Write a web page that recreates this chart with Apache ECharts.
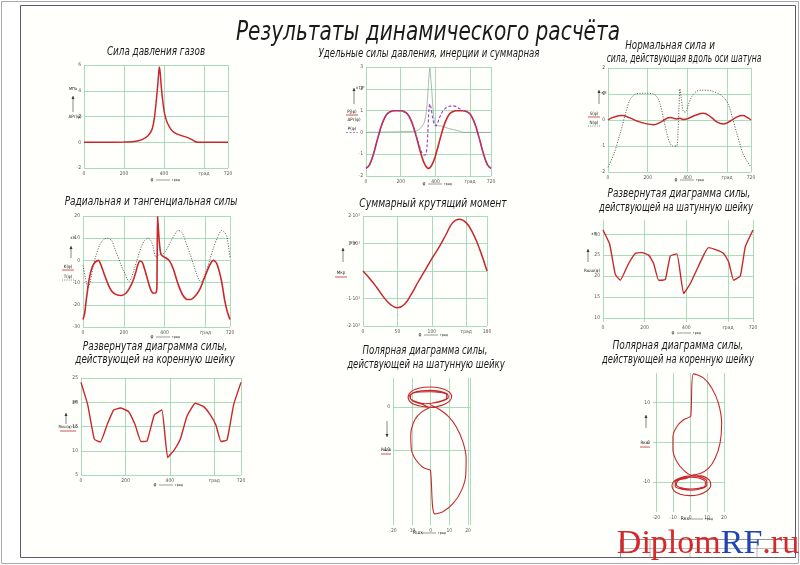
<!DOCTYPE html>
<html><head><meta charset="utf-8">
<script src="https://cdn.jsdelivr.net/npm/echarts@6/dist/echarts.min.js"></script>
<style>html,body{margin:0;padding:0;background:#fff}#c{width:800px;height:565px}</style>
</head><body><div id="c"></div><script>
// ---------- DATA ----------
const sheetTitle = 'Результаты динамического расчёта';
const degTickLabels = {0:'0',200:'200',400:'400',600:'град',720:'720'};
const torqueTickLabels = {0:'0',50:'50',100:'100',150:'град',180:'180'};

// 1. gas pressure force, MPa vs crank angle
const gasForce = [[0,0],[100,0],[200,0.01],[250,0.05],[290,0.2],[320,0.5],[340,1.0],[352,1.9],[360,3.0],[368,4.3],[374,5.5],[377,5.85],[381,5.4],[386,4.4],[393,3.3],[402,2.3],[412,1.7],[420,1.4],[435,1.0],[452,0.75],[480,0.55],[519,0.36],[540,0.2],[555,0.06],[570,0],[720,0]];
// 2. specific forces
const inertiaForce = [[0,-1.65],[20,-1.49],[40,-1.07],[60,-0.5],[80,0.08],[100,0.54],[120,0.83],[140,0.95],[160,0.99],[180,0.99],[200,0.99],[220,0.95],[240,0.83],[260,0.54],[280,0.08],[300,-0.5],[320,-1.07],[340,-1.49],[360,-1.65],[380,-1.49],[400,-1.07],[420,-0.5],[440,0.08],[460,0.54],[480,0.83],[500,0.95],[520,0.99],[540,0.99],[560,0.99],[580,0.95],[600,0.83],[620,0.54],[640,0.08],[660,-0.5],[680,-1.07],[700,-1.49],[720,-1.65]];
const gasSpecific = [[0,0],[280,0.05],[300,0.1],[320,0.25],[335,0.45],[345,0.8],[352,1.3],[358,2.0],[364,2.7],[368,2.95],[372,2.6],[378,2.0],[385,1.2],[392,0.6],[405,0.3],[430,0.3],[460,0.22],[490,0.15],[520,0.1],[545,0.04],[560,0],[720,0]];
const totalSpecific = [[0,-1.65],[20,-1.49],[40,-1.07],[60,-0.5],[80,0.08],[100,0.54],[120,0.83],[140,0.95],[160,0.99],[180,0.99],[200,0.99],[220,0.95],[240,0.83],[260,0.54],[280,0.1],[300,-0.42],[320,-0.9],[335,-1.05],[345,-1.0],[352,-0.6],[358,0.3],[363,1.1],[368,1.3],[374,1.15],[382,0.75],[392,0.4],[402,0.3],[412,0.42],[425,0.7],[440,0.95],[460,1.12],[480,1.2],[500,1.22],[520,1.18],[540,1.08],[560,1.0],[580,0.95],[600,0.83],[620,0.54],[640,0.08],[660,-0.5],[680,-1.07],[700,-1.49],[720,-1.65]];
// 3. normal force and force along con-rod axis
const normalForce = [[0,0],[25,0.1],[72,0.17],[110,0.08],[150,-0.05],[190,-0.14],[229,-0.18],[265,-0.08],[313,0.1],[345,0.04],[362,0.07],[378,0.02],[400,0.05],[440,0.18],[480,0.26],[520,0.1],[550,-0.08],[581,-0.15],[620,-0.02],[650,0.12],[678,0.17],[705,0.08],[720,0]];
const rodForce = [[0,-1.82],[30,-1.3],[62,-0.5],[90,0.3],[112,0.8],[140,1.0],[180,1.03],[230,1.0],[250,0.85],[263,0.6],[280,0.05],[296,-0.5],[310,-0.85],[325,-1.0],[345,-1.0],[352,-0.5],[358,0.6],[362,1.2],[368,0.9],[378,0.35],[390,0.3],[405,0.6],[422,0.9],[445,1.1],[470,1.15],[520,1.12],[560,1.0],[585,0.85],[606,0.6],[628,0.05],[648,-0.5],[680,-1.3],[720,-1.82]];
// 4. radial and tangential forces
const radialForce = [[0,-26.6],[8,-24],[15,-18.5],[30,-8.5],[45,-3],[60,-0.8],[76,0],[90,-2.5],[105,-6.5],[123,-10.8],[140,-13.8],[160,-15.3],[188,-15.8],[210,-14.8],[228,-12.5],[245,-9.2],[258,-5.5],[268,-2.2],[278,-0.3],[290,-0.8],[302,-4],[316,-8.5],[330,-12.8],[345,-14.8],[358,-14.5],[362,-12],[365,19.7],[368,16],[374,8],[381,3],[392,1.8],[405,1.2],[422,0],[442,-3.8],[466,-10.8],[490,-15.8],[510,-17.6],[528,-17.6],[556,-15.4],[575,-12.5],[589,-9.2],[605,-5.5],[618,-2.6],[630,-0.6],[640,0],[654,-1.2],[666,-4.5],[680,-10],[695,-18.5],[708,-23.5],[720,-26.6]];
const tangentForce = [[0,-2.3],[12,-8],[25,-12.3],[37,-9],[49,-3],[65,2.5],[82,7],[100,9.3],[118,10],[139,9.2],[155,5.5],[172,1.5],[190,-3],[205,-6],[220,-9],[226,-9.5],[238,-7.5],[254,-3],[270,1.8],[286,6.2],[302,9],[319,10],[333,8.8],[344,6],[357,1.5],[372,2.5],[393,3],[410,5],[425,7.7],[445,11],[466,13.5],[480,13],[491,11.5],[508,7],[524,3],[540,-1.5],[556,-6],[570,-9],[581,-9.5],[593,-7.5],[605,-4.6],[620,0],[638,5.4],[658,10],[679,13.5],[692,12.8],[704,10.8],[713,6],[720,1.5]];
// 5. total torque (x10^3)
const torque = [[0,0],[10,-0.28],[20,-0.6],[30,-0.95],[40,-1.22],[50,-1.34],[60,-1.22],[70,-0.85],[80,-0.4],[90,0.02],[100,0.45],[110,0.85],[120,1.3],[130,1.75],[140,1.88],[150,1.75],[160,1.35],[170,0.75],[180,0]];
// 6. force on crank pin (unrolled)
const pinForce = [[0,31],[32,27.6],[59,20.4],[83,19],[123,23],[155,25.4],[187,25.6],[219,25],[243,23],[267,19],[299,19.2],[323,24.8],[355,25.3],[387,15.8],[419,18.2],[483,25],[507,26.8],[547,26.2],[579,25.4],[603,23.4],[627,19],[659,20],[683,27],[720,31]];
// 7. force on main journal (unrolled)
const mainForce = [[0,24.1],[30,19.5],[60,12.4],[87,11.8],[117,15.3],[147,18.4],[177,18.8],[214,18.1],[244,15.3],[270,11.9],[297,12.0],[330,17.4],[364,18.4],[390,8.6],[420,10.2],[447,12.4],[477,17.1],[514,19.8],[552,19.1],[582,17.4],[607,15.3],[630,11.9],[657,12.2],[687,19.5],[720,24.1]];
// 8. polar diagram, crank pin
const pinPolar = [[-0.36,-0.08],[-5.71,0.23],[-10.18,0.94],[-11.96,2.27],[-10.18,3.67],[-5.71,4.45],[-0.36,4.69],[5.0,4.45],[9.46,3.67],[11.25,2.5],[10.0,1.33],[5.89,0.39],[0.54,-0.08],[-4.82,0.7],[-9.64,1.48],[-11.07,2.5],[-9.29,3.36],[-4.82,3.83],[-0.36,3.91],[5.0,3.67],[8.93,3.05],[9.46,2.27],[6.79,1.48],[1.43,0.94],[-3.04,0.78],[-8.39,1.33],[-10.71,2.11],[-10.18,3.05],[-5.71,3.52],[-0.36,3.59],[5.0,3.44],[8.57,2.89],[8.57,2.11],[5.0,1.33],[-0.36,0.7],[4.11,-0.39],[9.46,-2.19],[13.57,-4.53],[17.14,-8.05],[18.93,-11.95],[18.75,-15.86],[16.61,-19.38],[12.14,-22.5],[6.79,-24.45],[2.32,-25.0],[0,-14.92],[-0.36,-14.69],[-3.93,-14.14],[-7.86,-12.34],[-10.18,-10.0],[-10.54,-6.48],[-8.39,-2.97],[-4.82,-1.17],[-0.36,-0.08]];
// 9. polar diagram, main journal
const mainPolar = [[0.59,-8.31],[5.88,-7.88],[10.78,-6.61],[14.71,-4.07],[17.65,-0.25],[18.63,4.83],[16.67,9.92],[12.75,13.73],[7.84,16.27],[1.96,17.29],[0.39,6.69],[-0.39,6.36],[-3.92,5.68],[-7.84,3.98],[-10.2,1.44],[-10.2,-1.95],[-7.84,-4.92],[-3.92,-7.03],[0.59,-8.31],[6.86,-8.47],[11.37,-9.58],[12.16,-10.85],[9.8,-12.29],[4.9,-13.22],[0,-13.47],[-5.88,-13.14],[-9.8,-12.12],[-10.78,-10.85],[-8.82,-9.58],[-3.92,-8.73],[0.59,-8.47],[5.88,-8.73],[9.8,-9.75],[9.8,-10.85],[6.86,-11.69],[0.98,-12.12],[-4.9,-11.86],[-8.82,-11.1],[-8.82,-10.0],[-4.9,-9.15],[0.59,-8.81],[5.49,-9.07],[9.02,-10.0],[8.82,-11.02],[4.9,-11.61],[0,-11.78],[-5.88,-11.44],[-8.24,-10.59],[-6.86,-9.58],[-1.96,-9.07],[0.59,-8.39]];

// ---------- LAYOUT / STYLE ----------
const F = "'Liberation Sans Narrow','DejaVu Sans Condensed','Noto Sans',sans-serif";
const RED = '#c8282d', GRIDC = '#94d3ab', BORDER = '#b5b5b5';
const grids = [
  {left:84,top:65,width:144,height:103},
  {left:366,top:67,width:125,height:109},
  {left:608,top:68,width:143,height:104},
  {left:83,top:216,width:147,height:111},
  {left:363,top:216,width:124,height:110},
  {left:603,top:220,width:150,height:102},
  {left:81,top:378,width:160,height:97},
  {left:393,top:378,width:77,height:147},
  {left:653,top:373,width:72,height:139}
].map(g => Object.assign({show:true, borderColor:BORDER, borderWidth:0.8, backgroundColor:'#fff'}, g));

function axis(i, o, fmt) {
  const a = {
    type:'value', gridIndex:i, min:o.min, max:o.max,
    axisLine:{show:false}, axisTick:{show:false},
    splitLine:{show:true, lineStyle:{color:GRIDC, width:0.8}},
    axisLabel:{fontSize:5, color:'#555', margin:3, fontFamily:F,
      formatter: fmt || (v => String(Math.round(v*100)/100))}
  };
  if (o.interval !== undefined) a.interval = o.interval;
  if (o.custom) { a.axisTick.customValues = o.custom; a.axisLabel.customValues = o.custom; }
  return a;
}
const degFmt = v => (degTickLabels[v] !== undefined ? degTickLabels[v] : '');
const xAxes = [
  axis(0,{min:0,max:720,interval:200},degFmt),
  axis(1,{min:0,max:720,interval:200},degFmt),
  axis(2,{min:0,max:720,interval:200},degFmt),
  axis(3,{min:0,max:720,interval:200},degFmt),
  axis(4,{min:0,max:180,interval:50},v => torqueTickLabels[v] !== undefined ? torqueTickLabels[v] : ''),
  axis(5,{min:0,max:720,interval:200},degFmt),
  axis(6,{min:0,max:720,interval:200},degFmt),
  axis(7,{min:-20,max:21,interval:10},v => v===21?'':String(v)),
  axis(8,{min:-22,max:20.6,custom:[-20,-10,0,10,20]})
];
const yAxes = [
  axis(0,{min:-2,max:6,interval:2}),
  axis(1,{min:-2,max:3,interval:1}),
  axis(2,{min:-2,max:2,interval:1}),
  axis(3,{min:-30,max:20,interval:10}),
  axis(4,{min:-2,max:2,interval:1},v => v===0?'':(v+'·10³')),
  axis(5,{min:9,max:33.4,custom:[10,15,20,25,30]}),
  axis(6,{min:5,max:25,interval:5}),
  axis(7,{min:-27.6,max:6.8,custom:[-10,0]}),
  axis(8,{min:-17.6,max:17.5,custom:[-10,0,10]})
];
xAxes.forEach(a => a.position = 'bottom');
yAxes.forEach(a => a.position = 'left');

function line(i, data, color, width, opts) {
  return Object.assign({type:'line', xAxisIndex:i, yAxisIndex:i, data, symbol:'none', showSymbol:false,
    silent:true, lineStyle:{color, width}, smooth:0.3, z:3}, opts || {});
}
const series = [
  line(0, gasForce, RED, 1.5, {smooth:0.2}),
  line(1, gasSpecific, '#7f9c8c', 0.7, {smooth:0.2}),
  line(1, inertiaForce, RED, 1.6, {smooth:0.45}),
  line(1, totalSpecific, '#9b3cc8', 1.1, {smooth:0.3, lineStyle:{color:'#9b3cc8', width:1.1, type:[3,2]}}),
  line(2, normalForce, RED, 1.5, {smooth:0.45}),
  line(2, rodForce, '#333', 0.8, {smooth:0.3, lineStyle:{color:'#333', width:0.8, type:[1.1,1.5]}}),
  line(3, tangentForce, '#333', 0.8, {smooth:0.3, lineStyle:{color:'#333', width:0.8, type:[1.1,1.5]}}),
  line(3, radialForce, RED, 1.6, {smooth:0.2}),
  line(4, torque, RED, 1.5, {smooth:0.45}),
  line(5, pinForce, RED, 1.4, {smooth:0.12}),
  line(6, mainForce, RED, 1.4, {smooth:0.12}),
  line(7, pinPolar, RED, 1.1, {smooth:0.35}),
  line(8, mainPolar, RED, 1.1, {smooth:0.35})
];

// ---------- GRAPHIC TEXT / FRAME ----------
const gr = [];
function T(x, y, text, size, extra, sx) {
  gr.push({type:'text', x, y, scaleX: sx || 1, silent:true, z:10, style:Object.assign({text, fontSize:size, fontFamily:F,
    fontStyle:'italic', fill:'#1a1a1a', align:'center', textAlign:'center', verticalAlign:'middle', textVerticalAlign:'middle'}, extra||{})});
}
function L(x1,y1,x2,y2,stroke,w,dash) {
  gr.push({type:'line', silent:true, z:9, shape:{x1,y1,x2,y2}, style:{stroke:stroke||'#333', lineWidth:w||0.6, lineDash:dash||null}});
}
function arrowUp(x, y1, y2) { L(x,y1,x,y2,'#333',0.6); gr.push({type:'polygon',silent:true,z:9,shape:{points:[[x-1.5,y2+3],[x+1.5,y2+3],[x,y2]]},style:{fill:'#333'}}); }
function arrowDown(x, y1, y2) { L(x,y1,x,y2,'#333',0.6); gr.push({type:'polygon',silent:true,z:9,shape:{points:[[x-1.5,y2-3],[x+1.5,y2-3],[x,y2]]},style:{fill:'#333'}}); }
function xLab(x, y, t) { T(x, y, t||'φ', 5, {fontStyle:'normal'}); L(x+4,y,x+18,y,'#333',0.5); T(x+24,y,'град',3.5,{fontStyle:'normal'}); }
const N = {fontStyle:'normal'};

// frame
gr.push({type:'rect', silent:true, z:0, shape:{x:1.5,y:1.5,width:797,height:562}, style:{fill:'none', stroke:'#a8a8b0', lineWidth:1}});
gr.push({type:'rect', silent:true, z:0, shape:{x:20.5,y:5.5,width:775,height:552}, style:{fill:'#fffffb', stroke:'#5a5a6a', lineWidth:1}});
// title block (bottom right)
gr.push({type:'rect', silent:true, z:1, shape:{x:620.5,y:539.5,width:175,height:18}, style:{fill:'none', stroke:'#666', lineWidth:0.7}});
L(620,548.5,795,548.5,'#777',0.5); L(650,540,650,558,'#777',0.5); L(690,540,690,558,'#777',0.5); L(757,540,757,558,'#777',0.5);

T(428, 33, sheetTitle, 26, null, 0.86);
T(156, 52, 'Сила давления газов', 11.5, null, 0.85);
T(429, 54, 'Удельные силы давления, инерции и суммарная', 11.5, null, 0.83);
T(670, 46, 'Нормальная сила и', 11.5, null, 0.85);
T(684, 59, 'сила, действующая вдоль оси шатуна', 11.5, null, 0.74);
T(151, 202, 'Радиальная и тангенциальная силы', 11.5, null, 0.87);
T(433, 204, 'Суммарный крутящий момент', 11.5, null, 0.89);
T(679, 194, 'Развернутая диаграмма силы,', 11.5, null, 0.86);
T(676, 208, 'действующей на шатунную шейку', 11.5, null, 0.81);
T(155, 347, 'Развернутая диаграмма силы,', 11.5, null, 0.87);
T(155, 360, 'действующей на коренную шейку', 11.5, null, 0.85);
T(425, 351, 'Полярная диаграмма силы,', 11.5, null, 0.83);
T(426, 365, 'действующей на шатунную шейку', 11.5, null, 0.83);
T(678, 346, 'Полярная диаграмма силы,', 11.5, null, 0.87);
T(678, 360, 'действующей на коренную шейку', 11.5, null, 0.81);

// y-axis names / legends
T(73, 89, 'МПа', 4, N); arrowUp(73, 112, 96); T(75, 117, 'ΔPг(φ)', 4.5, N);
T(360, 88, '×10⁶', 4, N); arrowUp(354, 104, 88);
T(352, 112, 'Pj(φ)', 4.5, N); L(346,115,358,115,RED,0.8);
T(354, 120, 'ΔPг(φ)', 4.5, N);
T(352, 129, 'P(φ)', 4.5, N); L(346,132.5,358,132.5,'#9b3cc8',0.7,[2,1.5]);
T(604, 93, 'кН', 4, N); arrowUp(599, 104, 90);
T(594, 114, 'S(φ)', 4.5, N); L(588,117,600,117,RED,0.8);
T(594, 123, 'N(φ)', 4.5, N); L(588,126,600,126,'#333',0.6,[1,1.2]);
T(73, 238, 'кН', 4, N); arrowUp(71, 258, 246);
T(68, 267, 'K(φ)', 4.5, N); L(62,270,74,270,RED,0.8);
T(68, 277, 'T(φ)', 4.5, N); L(62,280,74,280,'#333',0.6,[1,1.2]);
T(353, 243, 'Н·м', 4, N); arrowUp(343, 262, 248);
T(341, 273, 'Mкр', 4.5, N); L(335,277,347,277,RED,0.8);
T(594, 234, 'кН', 4, N); arrowUp(588, 262, 249);
T(592, 271, 'Rшш(φ)', 4.5, N);
T(75, 402, 'кН', 4, N); arrowUp(66, 424, 413);
T(68, 427, 'Rкш(φ)·10', 4, N); L(60,431,76,431,RED,0.8);
arrowDown(387, 421, 437); T(386, 450, 'Rшш', 4.5, N); L(381,454,391,454,RED,0.8);
arrowUp(646, 428, 415); T(645, 443, 'Rкш', 4.5, N); L(640,447,650,447,RED,0.8);

// x-axis names
xLab(152, 180); xLab(424, 184); xLab(676, 180); xLab(152, 337); xLab(420, 335);
xLab(673, 333); xLab(155, 485); xLab(418, 533, 'Rшх'); xLab(685, 519, 'Rкх');

// watermark
const SERIF = "'Liberation Serif','DejaVu Serif',serif";
gr.push({type:'text', x:708, y:544, silent:true, z:20, style:{text:'{r|Diplom}{b|RF}{r|.ru}', fontSize:34,
  fontFamily:SERIF, align:'center', textAlign:'center', verticalAlign:'middle', textVerticalAlign:'middle',
  rich:{r:{fill:'#d8262a', fontSize:34, fontFamily:SERIF}, b:{fill:'#1f45b5', fontSize:34, fontFamily:SERIF}}}});

const chart = echarts.init(document.getElementById('c'), null, {renderer:'canvas'});
chart.setOption({
  backgroundColor:'#ffffff', animation:false,
  grid:grids, xAxis:xAxes, yAxis:yAxes, series, graphic:{elements:gr}
});
</script></body></html>
